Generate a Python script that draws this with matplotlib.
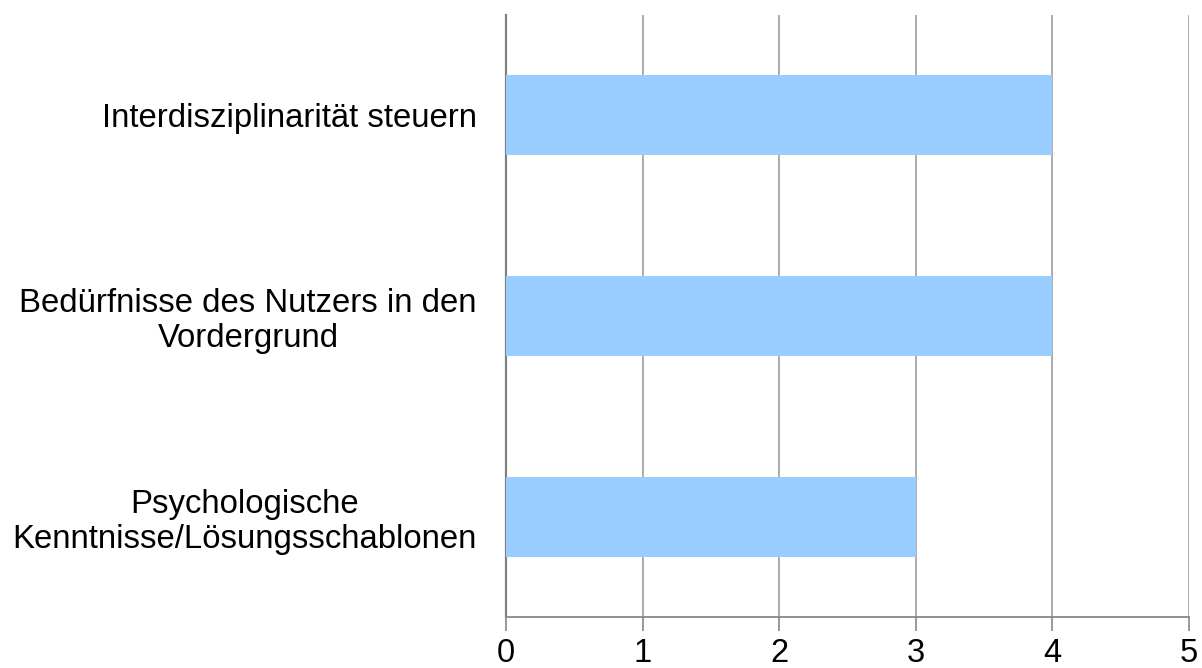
import matplotlib
matplotlib.use("Agg")
import matplotlib.pyplot as plt

categories = ["Interdisziplinarität steuern",
              "Bedürfnisse des Nutzers in den\nVordergrund",
              "Psychologische\nKenntnisse/Lösungsschablonen"]
values = [4, 4, 3]
xticks = [0, 1, 2, 3, 4, 5]

plt.rcParams['font.family'] = ['Liberation Sans', 'DejaVu Sans']

fig = plt.figure(figsize=(12.02, 6.68), dpi=100)
ax = fig.add_axes([506/1202, 1-617/668, (1189-506)/1202, (617-15)/668])

ypos = list(range(len(categories)))
ax.barh(ypos, values, height=0.4, color="#99CCFF", zorder=3)
ax.set_ylim(len(categories)-0.5, -0.5)
ax.set_xlim(0, 5)
ax.set_xticks(xticks)
ax.set_xticklabels([str(t) for t in xticks], fontsize=23.5)
ax.set_yticks(ypos)
ax.set_yticklabels(categories, fontsize=23.7, ha='right', multialignment='center', linespacing=1.15)
ax.tick_params(axis='y', length=0, pad=21)
ax.tick_params(axis='x', length=10, width=1.2, color='#888888', pad=5)
ax.grid(axis='x', color='#a6a6a6', linewidth=1.3, zorder=0)
for s in ['top', 'right']:
    ax.spines[s].set_visible(False)
ax.spines['left'].set_color('#808080')
ax.spines['left'].set_linewidth(1.6)
ax.spines['bottom'].set_color('#888888')
ax.spines['bottom'].set_linewidth(1.3)

fig.savefig("out.png", dpi=100)
